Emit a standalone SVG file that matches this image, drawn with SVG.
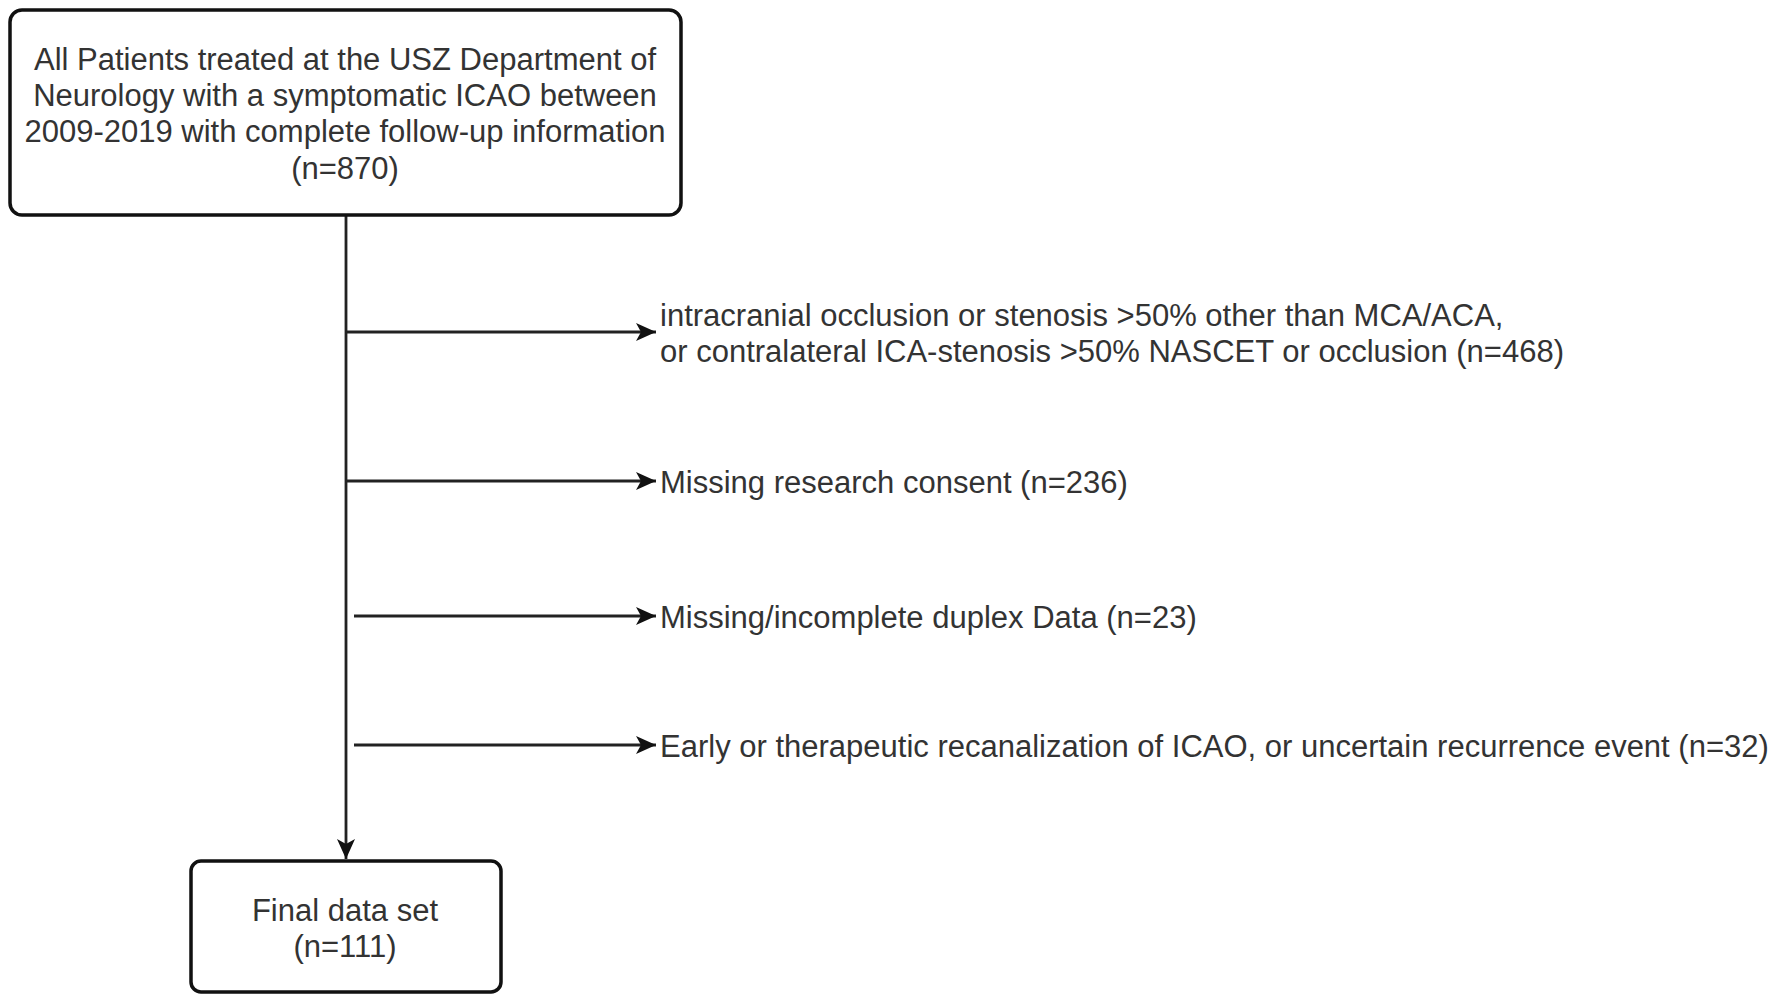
<svg xmlns="http://www.w3.org/2000/svg" width="1772" height="1003" viewBox="0 0 1772 1003">
<defs>
<marker id="ah" viewBox="0 0 10 10" refX="10" refY="5" markerWidth="20" markerHeight="20" markerUnits="userSpaceOnUse" orient="auto">
<path d="M0,0.5 L10,5 L0,9.5 L2.5,5 Z" fill="#111"/>
</marker>
<style>
.box{fill:#fff;stroke:#111;stroke-width:3.5}
.t{font-family:"Liberation Sans",Arial,sans-serif;font-size:31px;fill:#333}
.c{text-anchor:middle}
.ln{stroke:#222;stroke-width:2.8;fill:none}
</style>
</defs>
<rect width="1772" height="1003" fill="#fff"/>
<g id="connectors">
<line class="ln" x1="346" y1="215" x2="346" y2="859" marker-end="url(#ah)"/>
<line class="ln" x1="346" y1="332" x2="656" y2="332" marker-end="url(#ah)"/>
<line class="ln" x1="346" y1="481" x2="656" y2="481" marker-end="url(#ah)"/>
<line class="ln" x1="354" y1="616" x2="656" y2="616" marker-end="url(#ah)"/>
<line class="ln" x1="354" y1="745" x2="656" y2="745" marker-end="url(#ah)"/>
</g>
<g id="start">
<rect class="box" x="10" y="10" width="671" height="205" rx="12"/>
<text class="t c" x="345" y="70">All Patients treated at the USZ Department of</text>
<text class="t c" x="345" y="106">Neurology with a symptomatic ICAO between</text>
<text class="t c" x="345" y="142">2009-2019 with complete follow-up information</text>
<text class="t c" x="345" y="179">(n=870)</text>
</g>
<g id="excl1">
<text class="t" x="660" y="326">intracranial occlusion or stenosis &gt;50% other than MCA/ACA,</text>
<text class="t" x="660" y="362">or contralateral ICA-stenosis &gt;50% NASCET or occlusion (n=468)</text>
</g>
<g id="excl2">
<text class="t" x="660" y="493">Missing research consent (n=236)</text>
</g>
<g id="excl3">
<text class="t" x="660" y="628">Missing/incomplete duplex Data (n=23)</text>
</g>
<g id="excl4">
<text class="t" x="660" y="757">Early or therapeutic recanalization of ICAO, or uncertain recurrence event (n=32)</text>
</g>
<g id="final">
<rect class="box" x="191" y="861" width="310" height="131" rx="10"/>
<text class="t c" x="345" y="921">Final data set</text>
<text class="t c" x="345" y="957">(n=111)</text>
</g>
</svg>
